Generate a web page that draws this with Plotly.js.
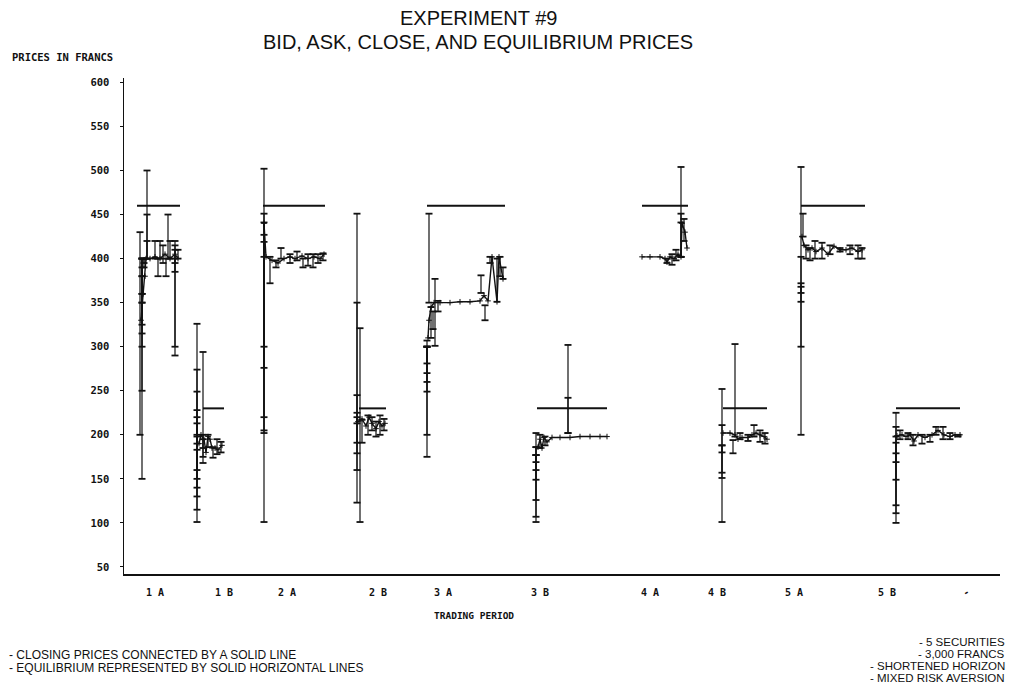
<!DOCTYPE html>
<html>
<head>
<meta charset="utf-8">
<script src="https://cdn.plot.ly/plotly-3.0.1.min.js"></script>
<style>
html,body{margin:0;padding:0;background:#fff;}
#chart{width:1016px;height:693px;}
</style>
</head>
<body>
<div id="chart"></div>
<script>
// ---- DATA ----
const periodLabels = ['1 A','1 B','2 A','2 B','3 A','3 B','4 A','4 B','5 A','5 B'];
const periodTick   = [155, 224, 287, 378, 443, 540, 650, 717, 794, 887];

// equilibrium (solid horizontal lines)
const eqStart = [137, 203, 263, 359, 427, 537, 642, 723, 801, 896];
const eqEnd   = [180, 224, 325, 386, 505, 607, 688, 767, 865, 960];
const eqPrice = [460, 230, 460, 230, 460, 230, 460, 230, 460, 230];

// bid / ask quotes per period (time, bid, ask)
const quoteTime = [
  [147,147,147,142,142,142,142,142,142,142,142,144,144,140,168,175,175,175,175,158,166,155,160,163,170,178],
  [197,197,197,197,197,197,197,197,203,203,203,208,213,217,221],
  [264,264,264,264,264,264,270,276,281,290,297,303,308,313,318,323],
  [357,357,357,357,357,360,362,368,372,376,380,384],
  [429,427,427,427,427,427,427,431,433,435,438,481,485,490,497,500,503],
  [536,536,536,536,536,536,568,568,540,545],
  [681,681,681,667,672,676,684],
  [722,722,722,722,735,733,740,748,754,760,765],
  [801,801,801,801,803,806,810,815,822,830,840,850,858,862],
  [896,896,896,896,896,900,908,913,922,930,936,943,950,958]
];
const quoteBid = [
  [400,400,400,150,250,300,315,325,350,360,380,390,395,200,400,290,300,385,395,380,380,400,400,395,400,400],
  [101,115,130,140,150,160,183,190,168,175,185,186,174,178,180],
  [101,202,205,220,276,300,372,390,400,395,398,390,392,390,395,398],
  [123,160,179,191,213,101,191,200,205,198,200,205],
  [350,175,200,249,260,270,281,310,320,301,340,361,330,395,351,380,377],
  [101,107,126,149,160,169,202,202,185,188],
  [402,402,402,395,393,398,420],
  [101,151,157,180,198,179,195,193,198,192,190],
  [200,300,351,361,425,400,398,400,400,405,408,405,400,400],
  [100,111,120,149,169,195,195,188,190,192,200,195,195,198]
];
const quoteAsk = [
  [500,450,420,400,390,380,360,350,400,400,400,400,400,430,450,420,415,410,400,400,400,420,420,415,420,410],
  [326,274,249,228,220,213,198,200,294,200,195,200,186,195,192],
  [502,451,441,427,419,402,402,398,412,405,408,400,405,405,405,406],
  [451,350,245,225,220,321,217,222,220,215,222,218],
  [451,307,300,300,300,300,300,345,340,377,352,381,347,402,400,402,390],
  [202,186,186,177,177,177,302,242,200,198],
  [504,451,441,400,405,410,445],
  [252,211,188,188,303,194,202,200,211,205,202],
  [504,402,372,368,451,415,412,420,418,415,412,415,415,412],
  [225,209,198,191,179,205,202,200,200,200,209,209,202,200]
];

// closing prices per period (time, price)
const closeTime = [
  [141,143,145,146,150,155,160,165,170,175,178],
  [199,201,204,206,208,210,212,215,218,222],
  [264,266,272,278,284,290,295,302,308,314,320,324],
  [358,362,366,369,372,376,379,382,385],
  [428,429,431,434,440,450,460,470,480,484,488,492,497,499,503],
  [538,540,542,544,547,552,560,570,580,590,600,607],
  [642,650,660,665,667,670,674,678,681,682,685,687],
  [723,730,735,738,742,748,752,756,760,764,767],
  [802,804,808,812,816,822,828,834,840,846,852,858,862],
  [897,902,906,910,914,918,925,932,938,944,950,955,960]
];
const closePrice = [
  [330,360,380,400,400,402,400,405,400,405,400],
  [190,200,195,180,198,195,185,185,183,188],
  [440,402,398,395,400,402,400,403,400,402,400,405],
  [215,218,210,220,213,207,215,210,213],
  [310,330,345,350,350,350,351,351,352,358,352,402,351,402,377],
  [186,195,185,197,192,197,197,197,198,198,198,198],
  [402,402,402,400,396,402,400,405,402,440,430,412],
  [202,202,200,195,197,197,200,202,200,198,195],
  [425,415,410,412,408,412,405,414,410,410,412,408,410],
  [199,200,198,200,193,200,197,200,205,200,198,200,200]
];

// notes
const notesLeft  = ['- CLOSING PRICES CONNECTED BY A SOLID LINE', '- EQUILIBRIUM REPRESENTED BY SOLID HORIZONTAL LINES'];
const notesRight = ['- 5 SECURITIES', '- 3,000 FRANCS', '- SHORTENED HORIZON', '- MIXED RISK AVERSION'];

// ---- BUILD TRACES ----
const qx = [], qy = [];
quoteTime.forEach((ts, p) => {
  ts.forEach((t, i) => { qx.push(t, t, null); qy.push(quoteBid[p][i], quoteAsk[p][i], null); });
});
const cx = [], cy = [];
closeTime.forEach((ts, p) => {
  ts.forEach((t, i) => { cx.push(t); cy.push(closePrice[p][i]); });
  cx.push(null); cy.push(null);
});
const ex = [], ey = [];
eqPrice.forEach((v, i) => { ex.push(eqStart[i], eqEnd[i], null); ey.push(v, v, null); });

const ink = '#111';
const traces = [
  {x: ex, y: ey, mode: 'lines', line: {color: ink, width: 2}, hoverinfo: 'skip', connectgaps: false},
  {x: qx, y: qy, mode: 'lines+markers', line: {color: ink, width: 1.2},
   marker: {symbol: 'line-ew-open', size: 5, color: ink, line: {color: ink, width: 1.8}},
   connectgaps: false},
  {x: cx, y: cy, mode: 'lines+markers', line: {color: ink, width: 1.4},
   marker: {symbol: 'cross-thin-open', size: 4, color: ink, line: {color: ink, width: 1}},
   connectgaps: false}
];

const mono = 'DejaVu Sans Mono, monospace';
const sans = 'Liberation Sans, Arial, sans-serif';
const PT = 78, PH = 496, PL = 124, PW = 876;
const px = x => (x - PL) / PW;
const py = y => 1 - (y - PT) / PH;

const annotations = [
  {text: 'EXPERIMENT #9', x: px(478), y: py(18), xanchor: 'center', font: {family: sans, size: 20, color: ink}},
  {text: 'BID, ASK, CLOSE, AND EQUILIBRIUM PRICES', x: px(478), y: py(42), xanchor: 'center', font: {family: sans, size: 20, color: ink}},
  {text: 'PRICES IN FRANCS', x: px(11), y: py(57), xanchor: 'left', font: {family: mono, size: 10.5, color: ink, weight: 'bold'}},
  {text: 'TRADING PERIOD', x: px(474), y: py(615), xanchor: 'center', font: {family: mono, size: 9.5, color: ink, weight: 'bold'}},
  {text: '-', x: px(966), y: py(592), xanchor: 'center', textangle: -30, font: {family: sans, size: 12, color: ink, weight: 'bold'}}
];
notesLeft.forEach((s, i) => annotations.push({text: s, x: px(8), y: py(655 + i * 13), xanchor: 'left',
  font: {family: sans, size: 12, color: ink}}));
notesRight.forEach((s, i) => annotations.push({text: s, x: px(1006), y: py(642 + i * 12), xanchor: 'right',
  font: {family: sans, size: 11.5, color: ink}}));
annotations.forEach(a => { a.xref = 'paper'; a.yref = 'paper'; a.showarrow = false; a.yanchor = 'middle'; a.borderpad = 0; });

const layout = {
  width: 1016, height: 693,
  margin: {l: PL, r: 16, t: PT, b: 693 - PT - PH},
  paper_bgcolor: '#fff', plot_bgcolor: '#fff',
  showlegend: false,
  xaxis: {
    range: [124, 1000], showgrid: false, zeroline: false,
    showline: true, linecolor: ink, linewidth: 2,
    tickmode: 'array', tickvals: periodTick, ticktext: periodLabels,
    ticks: '', ticklabelstandoff: 8,
    tickfont: {family: mono, size: 10, color: ink, weight: 'bold'}
  },
  yaxis: {
    range: [42, 605], showgrid: false, zeroline: false,
    showline: true, linecolor: ink, linewidth: 1.5,
    tickmode: 'linear', tick0: 50, dtick: 50,
    ticks: 'outside', ticklen: 3, tickcolor: ink, ticklabelstandoff: 8,
    tickfont: {family: mono, size: 10.5, color: ink, weight: 'bold'}
  },
  annotations: annotations
};

Plotly.newPlot('chart', traces, layout, {displayModeBar: false, staticPlot: true});
</script>
</body>
</html>
